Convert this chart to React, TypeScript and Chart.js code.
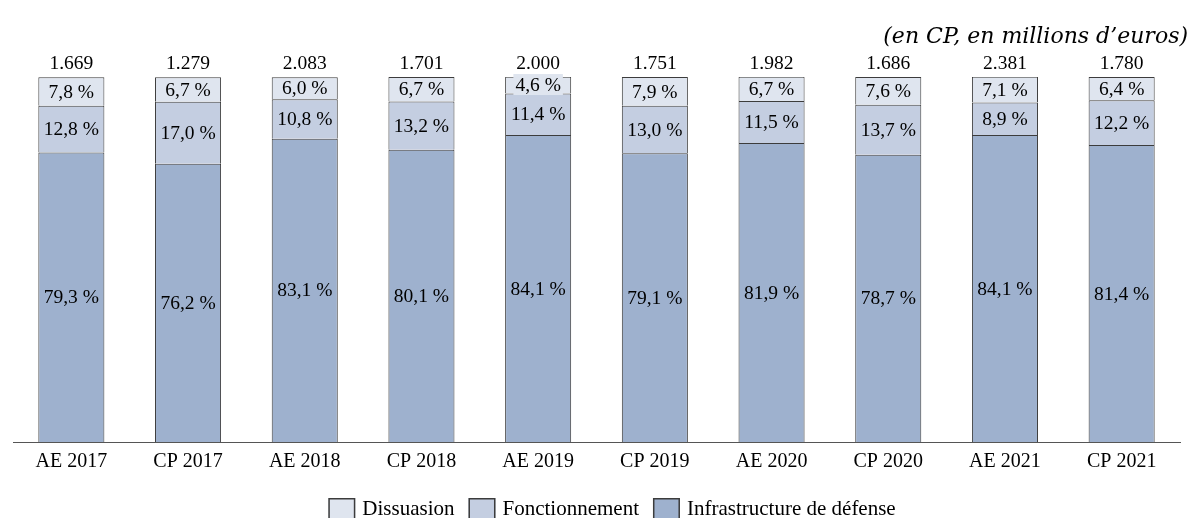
import React, { useEffect, useRef } from 'react';
import { Chart, registerables } from 'chart.js';

Chart.register(...registerables);

const categories = ['AE 2017', 'CP 2017', 'AE 2018', 'CP 2018', 'AE 2019', 'CP 2019', 'AE 2020', 'CP 2020', 'AE 2021', 'CP 2021'];
const totals = [1669, 1279, 2083, 1701, 2000, 1751, 1982, 1686, 2381, 1780];
const dissuasion = [7.8, 6.7, 6.0, 6.7, 4.6, 7.9, 6.7, 7.6, 7.1, 6.4];
const fonctionnement = [12.8, 17.0, 10.8, 13.2, 11.4, 13.0, 11.5, 13.7, 8.9, 12.2];
const infrastructure = [79.3, 76.2, 83.1, 80.1, 84.1, 79.1, 81.9, 78.7, 84.1, 81.4];
const seriesLabels = ['Infrastructure de défense', 'Fonctionnement', 'Dissuasion'];
const titleText = '(en CP, en millions d\u2019euros)';

const SERIF = "'Liberation Serif', serif";
const BORDER = '#3c3c3c';

const fmtTotal = (v: number) => (v / 1000).toFixed(3);
const fmtPct = (v: number) => v.toFixed(1).replace('.', ',') + ' %';

const labelsPlugin = {
  id: 'segmentLabels',
  afterDatasetsDraw(chart: any) {
    const ctx = chart.ctx;
    ctx.save();
    ctx.textAlign = 'center';
    ctx.textBaseline = 'middle';
    ctx.font = `19.5px ${SERIF}`;
    chart.data.datasets.forEach((ds: any, di: number) => {
      const meta = chart.getDatasetMeta(di);
      meta.data.forEach((el: any, i: number) => {
        const p = el.getProps(['x', 'y', 'base'], true);
        const txt = fmtPct(ds.data[i]);
        const cy = (p.y + p.base) / 2;
        const h = p.base - p.y;
        if (h < 20) {
          const w = ctx.measureText(txt).width + 4;
          ctx.fillStyle = ds.backgroundColor;
          ctx.fillRect(p.x - w / 2, cy - 11, w, 21);
        }
        ctx.fillStyle = '#000';
        ctx.fillText(txt, p.x, cy + 1);
      });
    });
    const topMeta = chart.getDatasetMeta(chart.data.datasets.length - 1);
    ctx.textBaseline = 'alphabetic';
    ctx.fillStyle = '#000';
    topMeta.data.forEach((el: any, i: number) => {
      ctx.fillText(fmtTotal(totals[i]), el.x, el.y - 8);
    });
    ctx.restore();
  },
  afterDraw(chart: any) {
    const ctx = chart.ctx;
    ctx.save();
    // title
    ctx.font = "italic 22px 'DejaVu Serif', serif";
    ctx.fillStyle = '#000';
    ctx.textAlign = 'right';
    ctx.textBaseline = 'alphabetic';
    ctx.fillText(titleText, 1188, 43);
    // legend
    ctx.font = `21px ${SERIF}`;
    const items = [...chart.data.datasets].reverse();
    const box = 27;
    const gapBT = 7;
    const gapItem = 14;
    const widths = items.map((ds: any) => box + gapBT + ctx.measureText(ds.label).width);
    const total = widths.reduce((a: number, b: number) => a + b, 0) + gapItem * (items.length - 1);
    let x = 612 - total / 2;
    const boxTop = 498;
    const baseline = 515;
    items.forEach((ds: any, k: number) => {
      ctx.fillStyle = ds.backgroundColor;
      ctx.fillRect(x, boxTop, box, box);
      ctx.strokeStyle = BORDER;
      ctx.lineWidth = 1.5;
      ctx.strokeRect(x + 0.75, boxTop + 0.75, box - 1.5, box - 1.5);
      ctx.fillStyle = '#000';
      ctx.textAlign = 'left';
      ctx.fillText(ds.label, x + box + gapBT, baseline);
      x += widths[k] + gapItem;
    });
    ctx.restore();
  },
};

export default function App() {
  const ref = useRef<HTMLCanvasElement>(null);
  useEffect(() => {
    if (!ref.current) return;
    const common = {
      borderColor: BORDER,
      borderWidth: { top: 1, left: 1, right: 1, bottom: 0 },
      borderSkipped: false,
      barPercentage: 0.566,
      categoryPercentage: 1,
    };
    const chart = new Chart(ref.current, {
      type: 'bar',
      data: {
        labels: categories,
        datasets: [
          { label: seriesLabels[0], data: infrastructure, backgroundColor: '#9eb1ce', ...common },
          { label: seriesLabels[1], data: fonctionnement, backgroundColor: '#c4cee1', ...common },
          { label: seriesLabels[2], data: dissuasion, backgroundColor: '#dfe5ef', ...common },
        ],
      } as any,
      options: {
        animation: false,
        responsive: true,
        maintainAspectRatio: false,
        layout: { padding: { top: 77, left: 13, right: 11, bottom: 0 } },
        plugins: {
          legend: { display: false },
          tooltip: { enabled: false },
          title: { display: false },
        },
        scales: {
          x: {
            stacked: true,
            grid: { display: false, drawTicks: false },
            border: { display: true, color: '#555', width: 1 },
            ticks: {
              font: { family: SERIF, size: 20 },
              color: '#000',
              padding: 8,
              autoSkip: false,
              maxRotation: 0,
            },
            afterFit: (s: any) => {
              s.height = 76;
            },
          },
          y: { stacked: true, display: false, min: 0, max: 100 },
        },
      } as any,
      plugins: [labelsPlugin],
    });
    return () => chart.destroy();
  }, []);
  return (
    <div style={{ position: 'fixed', left: 0, top: 0, width: 1191, height: 518, background: '#fff' }}>
      <canvas ref={ref} />
    </div>
  );
}
